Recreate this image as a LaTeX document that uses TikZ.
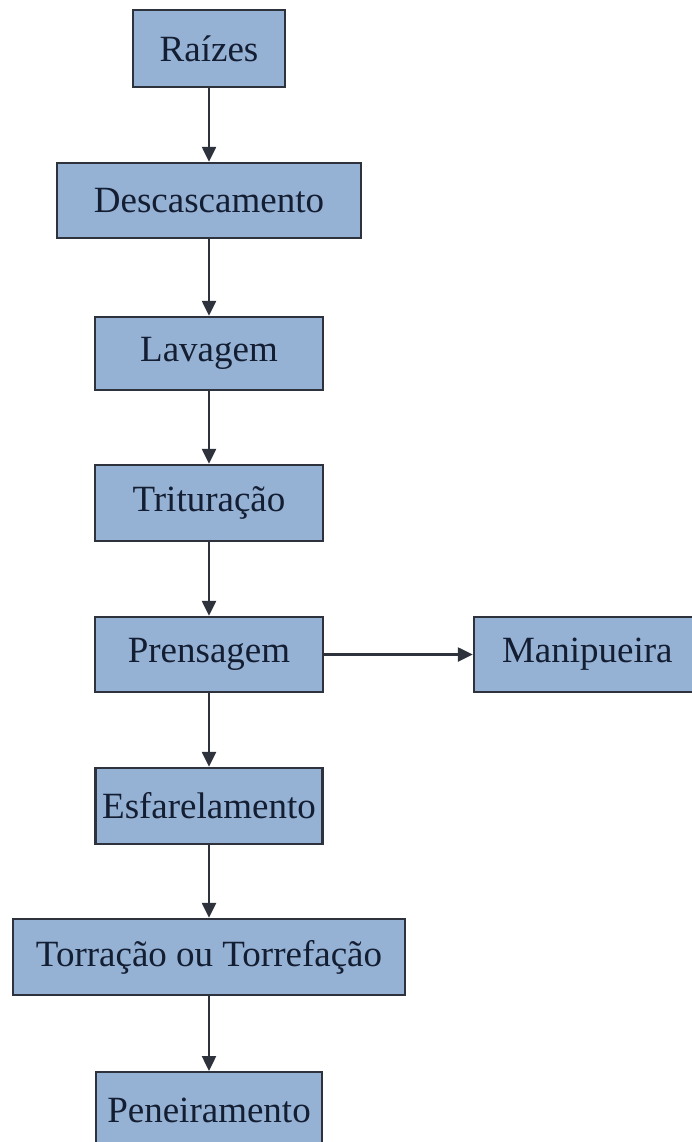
\documentclass[tikz,border=0pt]{standalone}
\usepackage{fontspec}
\setmainfont{Liberation Serif}
\usetikzlibrary{arrows.meta}
\definecolor{boxfill}{RGB}{149,177,212}
\definecolor{boxline}{RGB}{45,50,60}
\definecolor{txt}{RGB}{20,30,50}
\begin{document}
\begin{tikzpicture}[x=1pt,y=-1pt,
  stepbox/.style={draw=boxline, line width=2.4pt, fill=boxfill, text=txt,
    inner sep=0pt, font=\fontsize{37}{40}\selectfont},
  flow/.style={draw=boxline, line width=2.4pt, -{Triangle[length=15pt,width=14pt]}}]
\useasboundingbox[fill=white] (0,0) rectangle (692,1142);
\node[stepbox, minimum width=152pt, minimum height=77pt] (r) at (209,48.5) {Raízes};
\node[stepbox, minimum width=304pt, minimum height=75pt] (d) at (209,200.5) {Descascamento};
\node[stepbox, minimum width=228pt, minimum height=73pt] (l) at (209,353.5) {Lavagem};
\node[stepbox, minimum width=228pt, minimum height=76pt] (t) at (209,503) {Trituração};
\node[stepbox, minimum width=228pt, minimum height=75pt] (p) at (209,654.5) {Prensagem};
\node[stepbox, minimum width=220pt, minimum height=75pt, text width=218pt, align=left] (m) at (584,654.5) {\hspace*{27pt}Manipueira};
\node[stepbox, minimum width=227pt, minimum height=76pt] (e) at (209,806) {Esfarelamento};
\node[stepbox, minimum width=392pt, minimum height=76pt] (to) at (209,957) {Torração ou Torrefação};
\node[stepbox, minimum width=226pt, minimum height=76pt, anchor=north] (pe) at (209,1071) {Peneiramento};
\draw[flow] (r) -- (d);
\draw[flow] (d) -- (l);
\draw[flow] (l) -- (t);
\draw[flow] (t) -- (p);
\draw[flow] (p) -- (m);
\draw[flow] (p) -- (e);
\draw[flow] (e) -- (to);
\draw[flow] (to) -- (pe);
\end{tikzpicture}
\end{document}
